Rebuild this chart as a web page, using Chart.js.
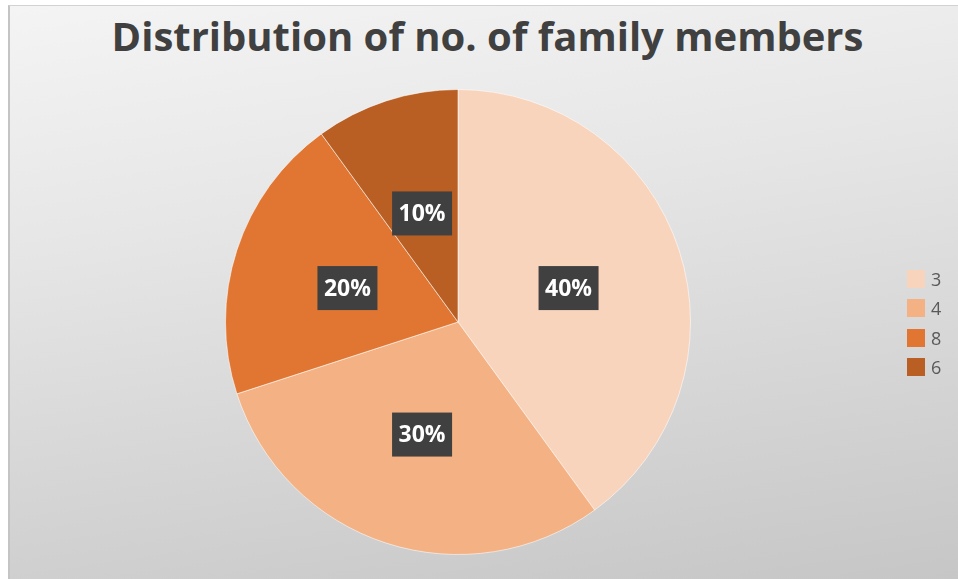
<!DOCTYPE html>
<html>
<head>
<meta charset="utf-8">
<script src="https://cdn.jsdelivr.net/npm/chart.js@4.4.1/dist/chart.umd.min.js"></script>
<style>
  html,body{margin:0;padding:0;background:#fff;}
  body{width:958px;height:579px;overflow:hidden;position:relative;font-family:"Open Sans",sans-serif;}
  #frame{position:absolute;left:8px;top:5px;width:950px;height:574px;
    background:linear-gradient(172deg,#f4f4f4 0%,#e6e6e6 35%,#c6c6c6 100%);
    border-top:1px solid #d2d2d2;border-left:2px solid #c4c4c4;box-sizing:border-box;}
  #wrap{position:absolute;left:8px;top:5px;width:950px;height:574px;}
  #title{position:absolute;left:0;width:975px;top:9px;text-align:center;
    font:bold 40px/54px "Open Sans",sans-serif;color:#404040;white-space:nowrap;}
  #legend{position:absolute;left:907px;top:264px;}
  .lg{display:flex;align-items:center;height:29.5px;}
  .lg span.sw{width:18px;height:18px;display:inline-block;margin-right:6px;}
  .lg span.tx{color:#595959;font-size:18px;line-height:18px;}
</style>
</head>
<body>
<div id="frame"></div>
<div id="title"></div>
<div id="wrap"><canvas id="pie"></canvas></div>
<div id="legend"></div>
<script>
// donnees
const categories = ['3', '4', '8', '6'];
const shares = [40, 30, 20, 10];
const sliceColors = ['#F8D4BC', '#F4B183', '#E07631', '#BA5F23'];
const chartTitle = 'Distribution of no. of family members';

// etiquettes % dans une boite sombre
const pctLabels = {
  id: 'pctLabels',
  afterDatasetsDraw(chart){
    const ctx = chart.ctx;
    const meta = chart.getDatasetMeta(0);
    const total = shares.reduce((s,x)=>s+x,0);
    ctx.save();
    ctx.font = 'bold 23px "Open Sans"';
    ctx.textAlign = 'center';
    ctx.textBaseline = 'middle';
    meta.data.forEach((arc,i)=>{
      const p = arc.tooltipPosition();
      const txt = Math.round(shares[i]/total*100) + '%';
      const w = 60, h = 44;
      ctx.fillStyle = '#404040';
      ctx.fillRect(p.x - w/2, p.y - h/2 + 2, w, h);
      ctx.fillStyle = '#ffffff';
      ctx.fillText(txt, p.x, p.y + 3);
    });
    ctx.restore();
  }
};

const chart = new Chart(document.getElementById('pie'), {
  type: 'pie',
  data: {
    labels: categories,
    datasets: [{
      data: shares,
      backgroundColor: sliceColors,
      borderColor: 'rgba(255,255,255,0.55)',
      borderWidth: 1
    }]
  },
  options: {
    responsive: true,
    maintainAspectRatio: false,
    animation: false,
    layout: { padding: { left: 0, right: 50, top: 84, bottom: 24 } },
    plugins: {
      legend: { display: false },
      tooltip: { enabled: false },
      title: { display: false }
    }
  },
  plugins: [pctLabels]
});

document.getElementById('title').textContent = chartTitle;

// legende html
const $leg = document.getElementById('legend');
$leg.innerHTML = categories.map((c,i)=>
  `<div class="lg"><span class="sw" style="background:${sliceColors[i]}"></span><span class="tx">${c}</span></div>`
).join('');
</script>
</body>
</html>
